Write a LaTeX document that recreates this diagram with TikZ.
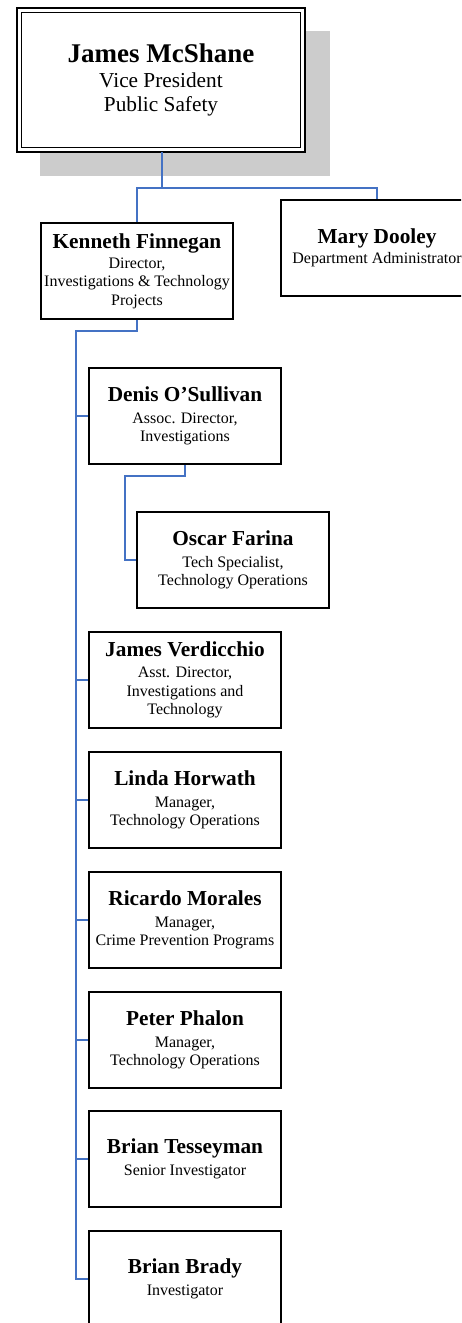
\documentclass[tikz,border=0pt]{standalone}
\usepackage{fontspec}
\setmainfont{Liberation Serif}
\definecolor{connblue}{RGB}{68,114,196}
\definecolor{shadowgray}{RGB}{204,204,204}
\newcommand\nmfont{\fontsize{21.3}{24}\selectfont\bfseries}
\newcommand\subfnt{\fontsize{16}{18.4}\selectfont}
\tikzset{
  x=1pt, y=-1pt,
  box/.style={draw, line width=1.8pt, minimum width=192pt, minimum height=96pt,
    inner sep=0pt, align=center, font=\subfnt, fill=white},
  conn/.style={draw=connblue, line width=2pt}
}
\begin{document}
\begin{tikzpicture}
\useasboundingbox (0,0) rectangle (461,1323);
\clip (0,0) rectangle (461,1323);
% shadow of top box
\fill[shadowgray] (40,31) rectangle (330,176);
% top box
\node[minimum width=288pt, minimum height=144pt, inner sep=0pt, fill=white, align=center,
  font=\fontsize{21.3}{24.5}\selectfont] (vp) at (161,80)
  {{\fontsize{27}{30}\selectfont\bfseries James McShane}\\ Vice President\\ Public Safety};
\draw[line width=2pt] (vp.north west) rectangle (vp.south east);
\draw[line width=1pt] ([shift={(4.5,4.5)}]vp.north west) rectangle ([shift={(-4.5,-4.5)}]vp.south east);

\node[box] (kf) at (137,271) {{\nmfont Kenneth Finnegan}\\[2pt] Director,\\ Investigations \& Technology\\ Projects};
\node[box] (md) at (377,248) {{\nmfont Mary Dooley}\\[2pt] Department Administrator};
\node[box] (ds) at (185,416) {{\nmfont Denis O’Sullivan}\\[3.5pt] Assoc. Director,\\ Investigations};
\node[box] (of) at (233,560) {{\nmfont Oscar Farina}\\[3.5pt] Tech Specialist,\\ Technology Operations};
\node[box] (jv) at (185,680) {{\nmfont James Verdicchio}\\[2.5pt] Asst. Director,\\ Investigations and\\ Technology};
\node[box] (lh) at (185,800) {{\nmfont Linda Horwath}\\[3.5pt] Manager,\\ Technology Operations};
\node[box] (rm) at (185,920) {{\nmfont Ricardo Morales}\\[3.5pt] Manager,\\ Crime Prevention Programs};
\node[box] (pp) at (185,1040) {{\nmfont Peter Phalon}\\[3.5pt] Manager,\\ Technology Operations};
\node[box] (bt) at (185,1159) {{\nmfont Brian Tesseyman}\\[3.5pt] Senior Investigator};
\node[box] (bb) at (185,1279) {{\nmfont Brian Brady}\\[3.5pt] Investigator};

% connectors
\coordinate (vpj) at (162,188);
\draw[conn] (vp.south -| vpj) -- (vpj) -| (kf.north);
\draw[conn] (vpj) -| (md.north);
\coordinate (trunk) at (76,331);
\draw[conn] (kf.south) |- (trunk) -- (trunk |- bb.west) -- (bb.west);
\foreach \n in {ds,jv,lh,rm,pp,bt} {
  \draw[conn] (trunk |- \n.west) -- (\n.west);
}
\coordinate (dj) at (125,476);
\draw[conn] (ds.south) |- (dj) |- (of.west);
\end{tikzpicture}
\end{document}
